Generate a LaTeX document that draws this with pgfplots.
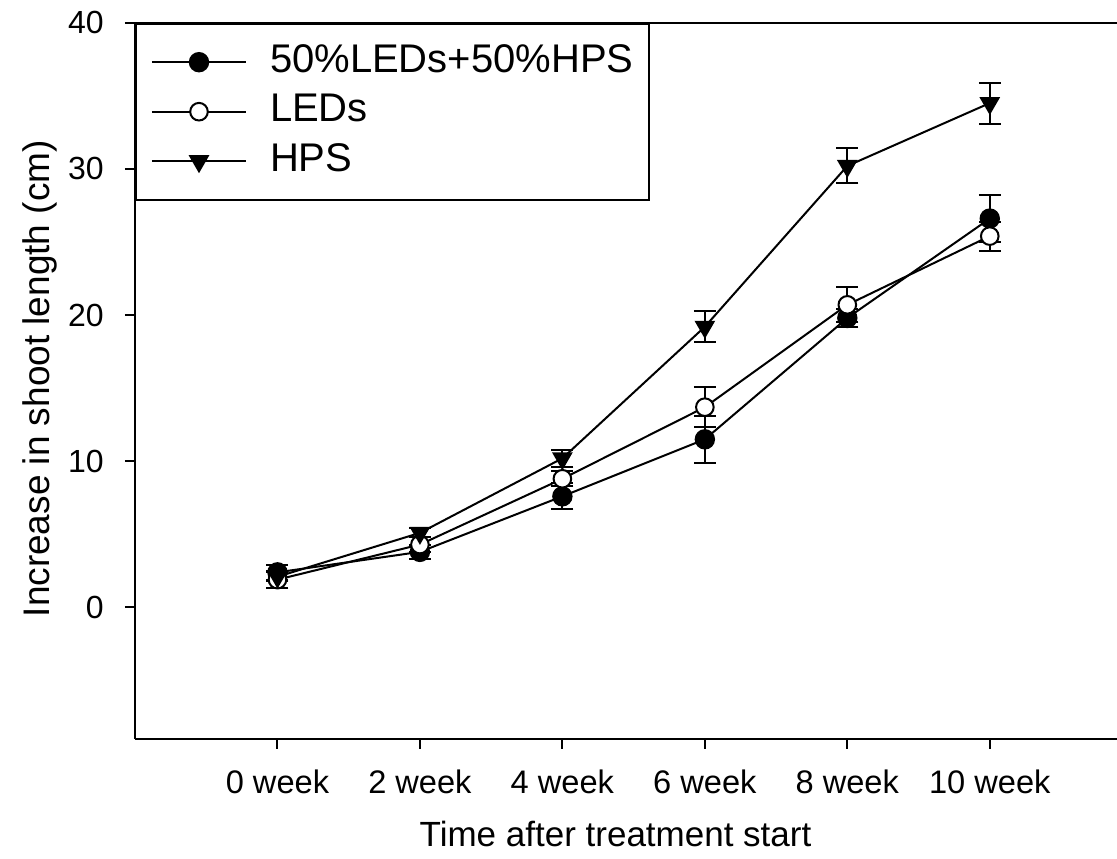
\documentclass[border=0pt]{standalone}
\usepackage{pgfplots}
\pgfplotsset{compat=1.18}
\usepackage{fontspec}
\setmainfont{Liberation Sans}
\begin{document}
\begin{tikzpicture}
\begin{axis}[
  scale only axis, width=491pt, height=358.15pt,
  xmin=-1, xmax=5.893, ymin=-9, ymax=40,
  axis x line=box, axis y line=left,
  axis line style={-, line width=1pt, black},
  xtick={0,1,2,3,4,5},
  xticklabels={0 week,2 week,4 week,6 week,8 week,10 week},
  ytick={0,10,20,30,40},
  xtick pos=bottom, ytick pos=left,
  tick align=outside, major tick length=5pt,
  tick style={line width=1pt, black},
  /pgf/number format/assume math mode=true,
  xticklabel style={font=\fontsize{16.3}{19}\selectfont, inner sep=0pt, anchor=base, yshift=-22.5pt},
  yticklabel style={font=\fontsize{16}{19}\selectfont, inner sep=0pt, anchor=east, xshift=-10.5pt},
  xlabel={Time after treatment start},
  ylabel={Increase in shoot length (cm)},
  xlabel style={font=\fontsize{17.5}{20}\selectfont, at={(axis cs:2.373,-9)}, anchor=base, yshift=-54pt, inner sep=0pt},
  ylabel style={font=\fontsize{18.5}{21}\selectfont, at={(rel axis cs:0,0.503)}, anchor=base, yshift=42.5pt, inner sep=0pt},
  legend style={at={(rel axis cs:0,1)}, anchor=north west, draw=black, line width=1pt,
    font=\fontsize{20}{24}\selectfont, inner xsep=7.5pt, inner ysep=9.75pt,
    cells={anchor=west}, row sep=5.75pt,
    nodes={inner sep=0pt, text height=14.5pt, text depth=4.5pt},
    /tikz/every odd column/.append style={column sep=11.5pt}},
  legend image code/.code={\draw[mark repeat=2, mark phase=2, #1] plot coordinates {(0pt,0pt) (23.5pt,0pt) (47pt,0pt)};},
]
\coordinate (bl) at (rel axis cs:0,0);
\coordinate (tr) at (rel axis cs:1,1);
% 50%LEDs+50%HPS
\addplot[black, line width=1pt, mark=*, mark size=4.6pt, mark options={fill=black, solid},
  error bars/.cd, y dir=both, y explicit, error bar style={line width=1pt},
  error mark options={rotate=90, mark size=5.5pt, line width=1pt}]
  coordinates {(0,2.4) +- (0,0.5) (1,3.8) +- (0,0.5) (2,7.6) +- (0,0.9) (3,11.5) +- (0,1.6) (4,19.8) +- (0,0.6) (5,26.6) +- (0,1.6)};
\addlegendentry{50\%LEDs+50\%HPS}
% LEDs
\addplot[black, line width=1pt, mark=*, mark size=4.4pt, mark options={fill=white, solid},
  error bars/.cd, y dir=both, y explicit, error bar style={line width=1pt},
  error mark options={rotate=90, mark size=5.5pt, line width=1pt}]
  coordinates {(0,1.9) +- (0,0.6) (1,4.3) +- (0,0.5) (2,8.8) +- (0,0.5) (3,13.7) +- (0,1.35) (4,20.7) +- (0,1.2) (5,25.4) +- (0,1.0)};
\addlegendentry{LEDs}
% HPS
\addplot[black, line width=1pt, mark=triangle*, mark size=5pt, mark options={fill=black, solid, rotate=180},
  error bars/.cd, y dir=both, y explicit, error bar style={line width=1pt},
  error mark options={rotate=90, mark size=5.5pt, line width=1pt}]
  coordinates {(0,2.1) +- (0,0.3) (1,5.1) +- (0,0.3) (2,10.2) +- (0,0.6) (3,19.2) +- (0,1.05) (4,30.2) +- (0,1.2) (5,34.5) +- (0,1.4)};
\addlegendentry{HPS}
\end{axis}
\pgfresetboundingbox
\useasboundingbox ([xshift=-67.5pt,yshift=-60pt]bl) rectangle ([yshift=11.35pt]tr);
\end{tikzpicture}
\end{document}
